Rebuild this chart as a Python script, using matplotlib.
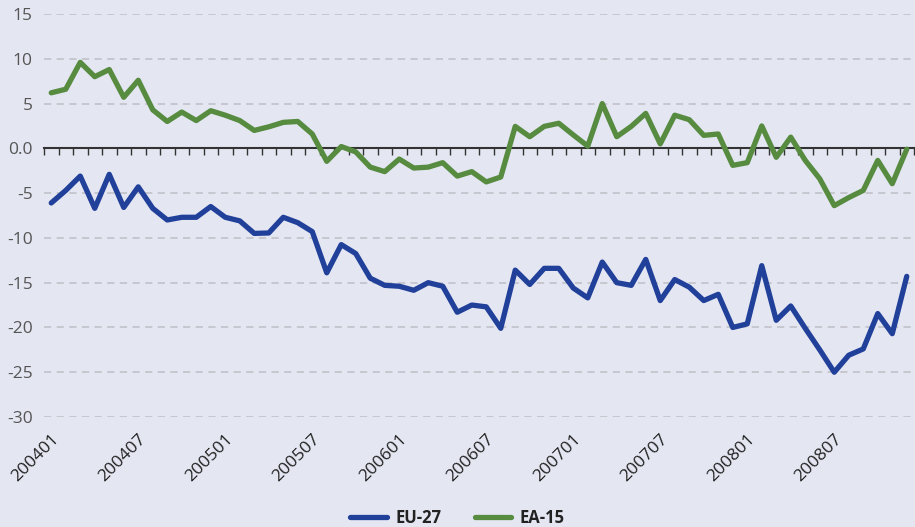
import matplotlib
matplotlib.use("Agg")
import matplotlib.pyplot as plt
import numpy as np

# months 200401 .. 200812
months = [f"{y}{m:02d}" for y in range(2004, 2009) for m in range(1, 13)]

eu27 = [-6.1, -4.7, -3.1, -6.7, -2.9, -6.6, -4.3, -6.7, -8.0, -7.7,
        -7.7, -6.5, -7.7, -8.1, -9.5, -9.45, -7.7, -8.3, -9.3, -13.9,
        -10.75, -11.75, -14.5, -15.3, -15.4, -15.85, -15.0, -15.4, -18.3, -17.5,
        -17.7, -20.1, -13.6, -15.2, -13.4, -13.4, -15.6, -16.7, -12.7, -15.0,
        -15.3, -12.4, -17.0, -14.65, -15.5, -17.0, -16.3, -20.0, -19.6, -13.1,
        -19.2, -17.6, -20.1, -22.5, -25.0, -23.1, -22.4, -18.45, -20.7, -14.3]

ea15 = [6.2, 6.6, 9.6, 8.0, 8.8, 5.7, 7.6, 4.3, 3.0, 4.05,
        3.1, 4.2, 3.7, 3.1, 2.0, 2.4, 2.9, 3.0, 1.6, -1.45,
        0.2, -0.4, -2.1, -2.6, -1.2, -2.2, -2.1, -1.6, -3.1, -2.6,
        -3.75, -3.2, 2.45, 1.3, 2.45, 2.8, 1.5, 0.25, 5.0, 1.3,
        2.45, 3.9, 0.5, 3.7, 3.2, 1.45, 1.6, -1.9, -1.6, 2.5,
        -1.0, 1.25, -1.35, -3.4, -6.4, -5.5, -4.7, -1.35, -3.95, -0.1]

yticks = [-30, -25, -20, -15, -10, -5, 0, 5, 10, 15]
ylabels = ["-30", "-25", "-20", "-15", "-10", "-5", "0.0", "5", "10", "15"]

bg = "#e4e6f2"
plt.rcParams["font.family"] = ["Open Sans", "DejaVu Sans"]

fig = plt.figure(figsize=(9.15, 5.27), dpi=100, facecolor=bg)
ax = fig.add_axes([44 / 915, 1 - 417 / 527, 870 / 915, 403 / 527])
ax.set_facecolor(bg)

x = np.arange(len(months))
l1, = ax.plot(x, eu27, color="#21409a", lw=3.8, solid_capstyle="round", zorder=3)
l2, = ax.plot(x, ea15, color="#568b40", lw=3.8, solid_capstyle="round", zorder=3)

ax.set_xlim(-0.5, len(months) - 0.5)
ax.set_ylim(-30, 15)
ax.set_yticks(yticks)
ax.set_yticklabels(ylabels)
ax.yaxis.grid(True, ls=(0, (4, 3)), color="#c4c5cc", lw=1.3)
ax.set_axisbelow(True)
ax.tick_params(axis="y", length=0, pad=8, labelsize=12.5, labelcolor="#555555")

for s in ["left", "right", "top"]:
    ax.spines[s].set_visible(False)
ax.spines["bottom"].set_position(("data", 0))
ax.spines["bottom"].set_color("#333333")
ax.spines["bottom"].set_linewidth(1.5)
ax.spines["bottom"].set_zorder(2)

# monthly boundary ticks on the zero line
ax.set_xticks(np.arange(-0.5, len(months), 1))
ax.set_xticklabels([])
ax.tick_params(axis="x", direction="out", length=5, width=1, color="#333333")

# labels below the plot
sec = ax.secondary_xaxis("bottom")
sec.set_xticks(x[::6])
sec.set_xticklabels(months[::6], rotation=45, ha="right", va="top",
                    rotation_mode="anchor")
sec.tick_params(length=0, pad=10, labelsize=12.5, labelcolor="#222222")
sec.spines["bottom"].set_visible(False)

fig.legend([l1, l2], ["EU-27", "EA-15"], loc="center", bbox_to_anchor=(0.5, 9 / 527),
           ncol=2, frameon=False, prop={"weight": "bold", "size": 12},
           handlelength=2.2, columnspacing=2.0, handletextpad=0.5,
           labelcolor="#222222")

fig.savefig("out.png", dpi=100, facecolor=bg)
